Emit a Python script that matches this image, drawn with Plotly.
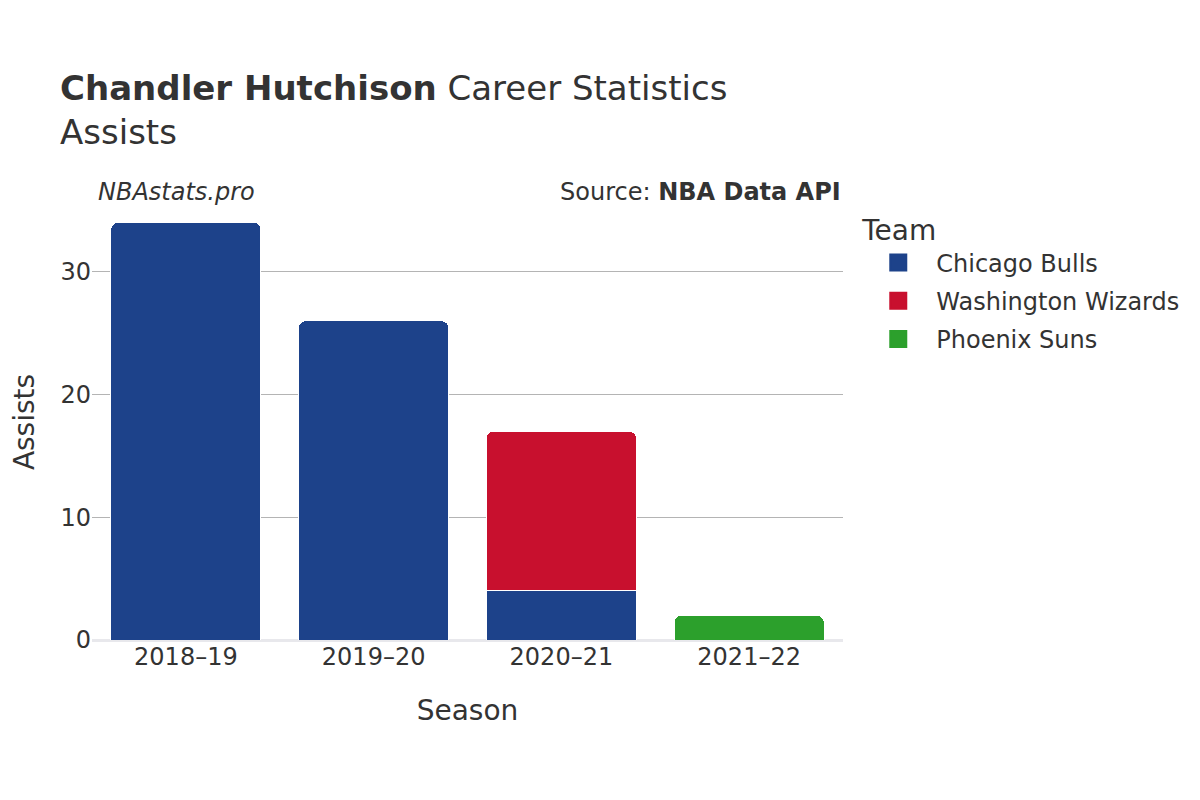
import plotly.graph_objects as go

seasons = ["2018–19", "2019–20", "2020–21", "2021–22"]
teams = ["Chicago Bulls", "Washington Wizards", "Phoenix Suns"]
colors = ["#1d428a", "#c8102e", "#2ca02c"]
assists = {
    "Chicago Bulls": [34, 26, 4, None],
    "Washington Wizards": [None, None, 13, None],
    "Phoenix Suns": [None, None, None, 2],
}

fig = go.Figure()
for team, col in zip(teams, colors):
    fig.add_trace(go.Bar(
        x=seasons,
        y=assists[team],
        name=team,
        showlegend=False,
        marker=dict(color=col, line=dict(color="white", width=1)),
    ))

# legend entries with bigger square icons
for team, col in zip(teams, colors):
    fig.add_trace(go.Scatter(
        x=[None], y=[None],
        mode="markers",
        name=team,
        legendgroup=team,
        marker=dict(color=col, symbol="square", size=20,
                    line=dict(color=col, width=2)),
    ))

# page body has an 8px margin, so positions are shifted by -8
fig.update_layout(
    barmode="stack",
    barcornerradius=7,
    bargap=0.2,
    width=1200,
    height=800,
    font=dict(family="DejaVu Sans", size=24, color="#333333"),
    paper_bgcolor="white",
    plot_bgcolor="white",
    title=dict(
        text="<b>Chandler Hutchison</b> Career Statistics<br>Assists",
        x=52 / 1200, xanchor="left", y=0.885, yanchor="top",
        font=dict(size=34, color="#333333"),
    ),
    margin=dict(l=84, r=365, t=196, b=168),
    legend=dict(
        title=dict(text="Team", font=dict(size=28)),
        x=1.023, xanchor="left", y=1.0, yanchor="top",
        font=dict(size=24),
        itemwidth=66,
        traceorder="grouped",
        tracegroupgap=4,
    ),
    xaxis=dict(
        title=dict(text="Season", font=dict(size=28), standoff=30),
        tickfont=dict(size=24),
        showgrid=False,
        automargin=False,
    ),
    yaxis=dict(
        title=dict(text="Assists", font=dict(size=28), standoff=32),
        range=[0, 35.5],
        tickvals=[0, 10, 20, 30],
        gridcolor="#b4b4b4",
        gridwidth=1,
        zeroline=True,
        zerolinecolor="#e8e8ec",
        zerolinewidth=3,
        tickfont=dict(size=24),
        automargin=False,
    ),
)

fig.add_annotation(
    text="<i>NBAstats.pro</i>", xref="paper", yref="paper",
    x=0.005, y=0.99, xanchor="left", yanchor="bottom",
    showarrow=False, font=dict(size=24, color="#333333"),
)
fig.add_annotation(
    text="Source: <b>NBA Data API</b>", xref="paper", yref="paper",
    x=1.0, y=0.99, xanchor="right", yanchor="bottom",
    showarrow=False, font=dict(size=24, color="#333333"),
)

fig.write_html("out.html")
